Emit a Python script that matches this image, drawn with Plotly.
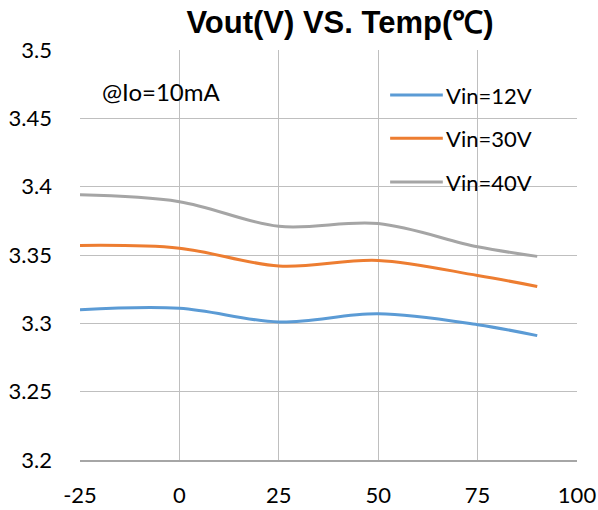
import plotly.graph_objects as go

temps = [-25, 0, 25, 50, 75, 90]
vin12 = [3.310, 3.311, 3.301, 3.307, 3.299, 3.291]
vin30 = [3.357, 3.355, 3.342, 3.346, 3.335, 3.327]
vin40 = [3.394, 3.389, 3.371, 3.373, 3.356, 3.349]
series_names = ["Vin=12V", "Vin=30V", "Vin=40V"]
colors = ["#5B9BD5", "#ED7D31", "#A5A5A5"]
x_ticks = [-25, 0, 25, 50, 75, 100]
x_tick_labels = ["-25", "0", "25", "50", "75", "100"]
y_ticks = [3.2, 3.25, 3.3, 3.35, 3.4, 3.45, 3.5]
y_tick_labels = ["3.2", "3.25", "3.3", "3.35", "3.4", "3.45", "3.5"]

font_main = "Lato, 'Open Sans', sans-serif"

fig = go.Figure()
for name, vals, col in zip(series_names, [vin12, vin30, vin40], colors):
    fig.add_trace(go.Scatter(
        x=temps, y=vals, mode="lines", name=name,
        line=dict(color=col, width=3, shape="spline", smoothing=1.0),
        showlegend=False, hoverinfo="skip",
    ))

# legend drawn as layout decorations (line sample + label)
legend_y = [0.890, 0.785, 0.678]
shapes = []
annotations = []
for name, col, ly in zip(series_names, colors, legend_y):
    shapes.append(dict(type="line", xref="paper", yref="paper",
                       x0=0.624, x1=0.730, y0=ly, y1=ly,
                       line=dict(color=col, width=3)))
    annotations.append(dict(text=name, xref="paper", yref="paper", x=0.733, y=ly,
                            xanchor="left", yanchor="middle", showarrow=False,
                            font=dict(family=font_main, size=22, color="black")))

annotations.append(dict(text="@Io=10mA", xref="paper", yref="paper", x=0.040, y=0.900,
                        xanchor="left", yanchor="middle", showarrow=False,
                        font=dict(family=font_main, size=24, color="black")))

fig.update_layout(
    width=598, height=510,
    margin=dict(l=80, r=21, t=50, b=50, autoexpand=False),
    paper_bgcolor="white", plot_bgcolor="white",
    title=dict(text="<b>Vout(V) VS. Temp(℃)</b>", x=340 / 598, xanchor="center",
               y=1 - 22 / 510, yanchor="middle",
               font=dict(family="'Liberation Sans', Arial, sans-serif", size=31, color="black")),
    font=dict(family=font_main, size=22, color="black"),
    showlegend=False,
    xaxis=dict(range=[-25, 100], tickvals=x_ticks, ticktext=x_tick_labels, ticks="",
               showgrid=True, gridcolor="#BFBFBF", gridwidth=1, zeroline=False,
               automargin=False, showline=True, linecolor="#A6A6A6", linewidth=2,
               mirror=False, tickfont=dict(size=22), ticklabelstandoff=15),
    yaxis=dict(range=[3.2, 3.5], tickvals=y_ticks, ticktext=y_tick_labels, ticks="",
               showgrid=True, gridcolor="#BFBFBF", gridwidth=1, zeroline=False,
               automargin=False, showline=False, tickfont=dict(size=22),
               ticklabelstandoff=27),
    shapes=shapes,
    annotations=annotations,
)

fig.write_html("out.html", config={"displayModeBar": False},
               post_script="document.body.style.margin='0';document.body.style.padding='0';")
